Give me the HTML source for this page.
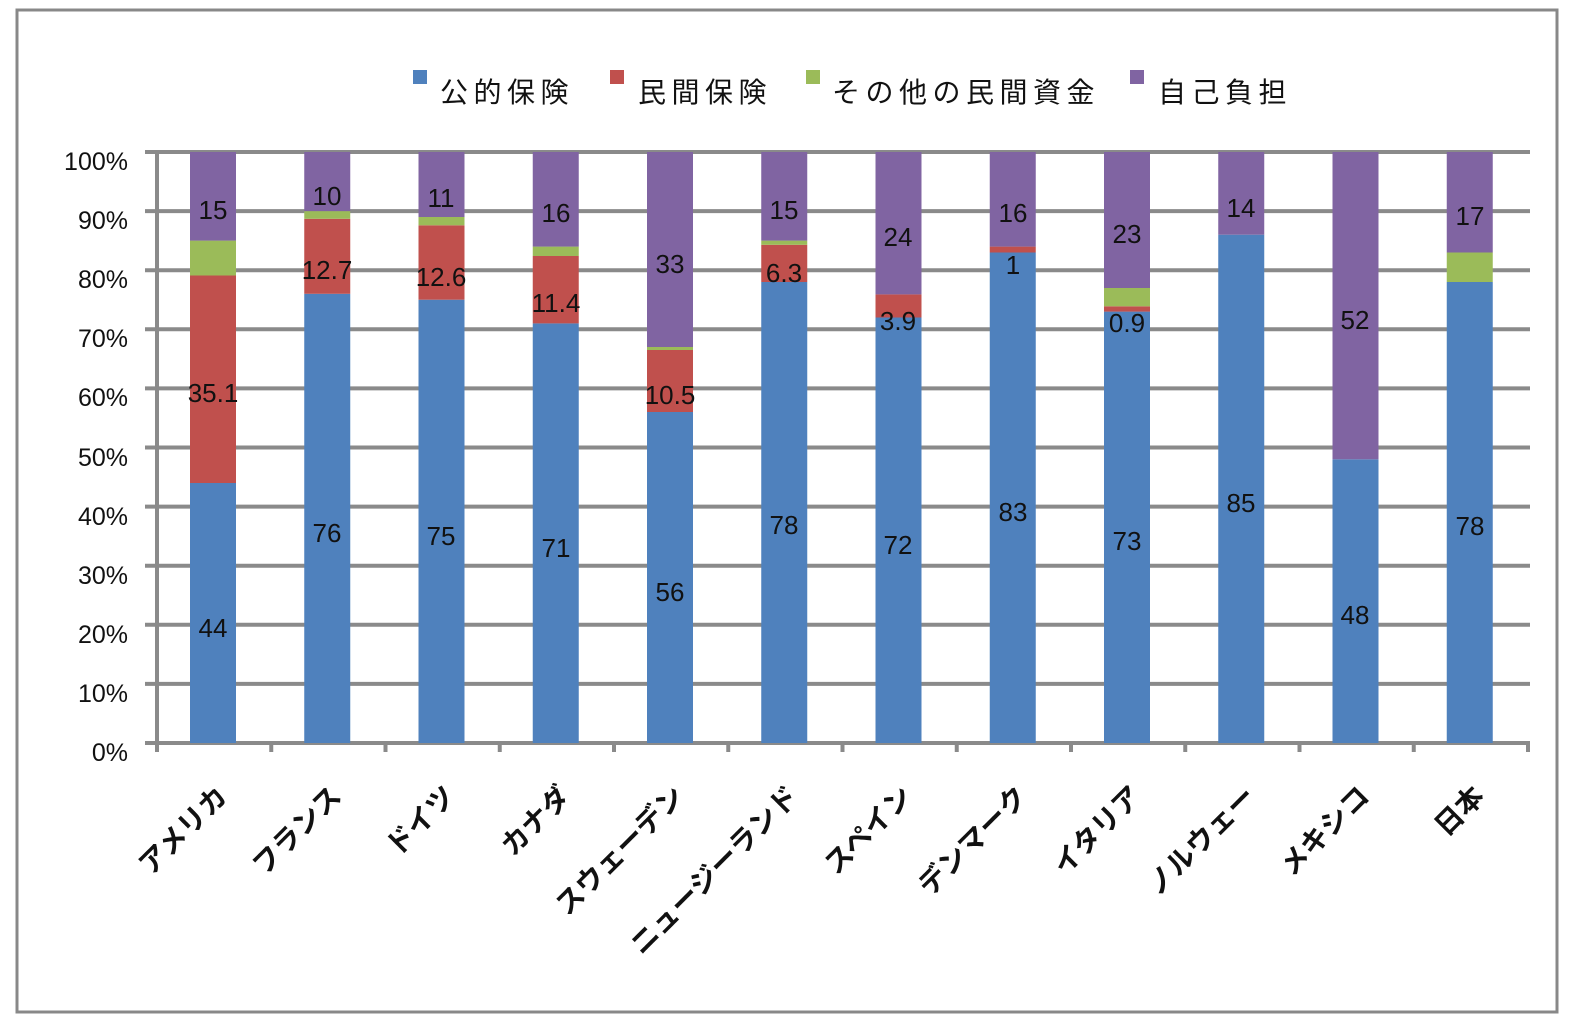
<!DOCTYPE html>
<html><head><meta charset="utf-8"><style>
html,body{margin:0;padding:0;background:#fff;}
svg{display:block;}
text{font-family:"Liberation Sans","Noto Sans CJK JP",sans-serif;}
</style></head><body>
<svg width="1569" height="1023" viewBox="0 0 1569 1023" xmlns="http://www.w3.org/2000/svg">
<rect x="0" y="0" width="1569" height="1023" fill="#fff"/>
<rect x="17" y="10" width="1540" height="1002" fill="none" stroke="#888" stroke-width="3"/>
<!-- legend -->
<g font-size="28" fill="#111" letter-spacing="5.5">
<rect x="413" y="70" width="14" height="14" fill="#4F81BD"/><text x="440" y="102">公的保険</text>
<rect x="610" y="70" width="14" height="14" fill="#C0504D"/><text x="638" y="102">民間保険</text>
<rect x="806" y="70" width="14" height="14" fill="#9BBB59"/><text x="832" y="102">その他の民間資金</text>
<rect x="1130" y="70" width="14" height="14" fill="#8064A2"/><text x="1158" y="102">自己負担</text>
</g>
<!-- gridlines -->
<g stroke="#8a8a8a" stroke-width="4">
<line x1="145" y1="152" x2="1530" y2="152"/>
<line x1="145" y1="211.1" x2="1530" y2="211.1"/>
<line x1="145" y1="270.2" x2="1530" y2="270.2"/>
<line x1="145" y1="329.3" x2="1530" y2="329.3"/>
<line x1="145" y1="388.4" x2="1530" y2="388.4"/>
<line x1="145" y1="447.5" x2="1530" y2="447.5"/>
<line x1="145" y1="506.6" x2="1530" y2="506.6"/>
<line x1="145" y1="565.7" x2="1530" y2="565.7"/>
<line x1="145" y1="624.8" x2="1530" y2="624.8"/>
<line x1="145" y1="683.9" x2="1530" y2="683.9"/>
<line x1="145" y1="743" x2="1530" y2="743"/>
<line x1="157" y1="150" x2="157" y2="752"/>
<line x1="271.25" y1="743" x2="271.25" y2="752"/>
<line x1="385.5" y1="743" x2="385.5" y2="752"/>
<line x1="499.75" y1="743" x2="499.75" y2="752"/>
<line x1="614" y1="743" x2="614" y2="752"/>
<line x1="728.25" y1="743" x2="728.25" y2="752"/>
<line x1="842.5" y1="743" x2="842.5" y2="752"/>
<line x1="956.75" y1="743" x2="956.75" y2="752"/>
<line x1="1071" y1="743" x2="1071" y2="752"/>
<line x1="1185.25" y1="743" x2="1185.25" y2="752"/>
<line x1="1299.5" y1="743" x2="1299.5" y2="752"/>
<line x1="1413.75" y1="743" x2="1413.75" y2="752"/>
<line x1="1528" y1="743" x2="1528" y2="752"/>
</g>
<!-- y labels -->
<g font-size="25" fill="#111" text-anchor="end">
<text x="128" y="170">100%</text>
<text x="128" y="229">90%</text>
<text x="128" y="288">80%</text>
<text x="128" y="347">70%</text>
<text x="128" y="406">60%</text>
<text x="128" y="466">50%</text>
<text x="128" y="525">40%</text>
<text x="128" y="584">30%</text>
<text x="128" y="643">20%</text>
<text x="128" y="702">10%</text>
<text x="128" y="761">0%</text>
</g>
<!-- bars -->
<g>
<rect x="190" y="483" width="46" height="260" fill="#4F81BD"/>
<rect x="190" y="275.5" width="46" height="207.5" fill="#C0504D"/>
<rect x="190" y="240.6" width="46" height="34.9" fill="#9BBB59"/>
<rect x="190" y="152" width="46" height="88.6" fill="#8064A2"/>

<rect x="304.25" y="293.8" width="46" height="449.2" fill="#4F81BD"/>
<rect x="304.25" y="218.8" width="46" height="75" fill="#C0504D"/>
<rect x="304.25" y="211.1" width="46" height="7.7" fill="#9BBB59"/>
<rect x="304.25" y="152" width="46" height="59.1" fill="#8064A2"/>

<rect x="418.5" y="299.7" width="46" height="443.3" fill="#4F81BD"/>
<rect x="418.5" y="225.3" width="46" height="74.4" fill="#C0504D"/>
<rect x="418.5" y="217" width="46" height="8.3" fill="#9BBB59"/>
<rect x="418.5" y="152" width="46" height="65" fill="#8064A2"/>

<rect x="532.75" y="323.4" width="46" height="419.6" fill="#4F81BD"/>
<rect x="532.75" y="256" width="46" height="67.4" fill="#C0504D"/>
<rect x="532.75" y="246.6" width="46" height="9.4" fill="#9BBB59"/>
<rect x="532.75" y="152" width="46" height="94.6" fill="#8064A2"/>

<rect x="647" y="412" width="46" height="331" fill="#4F81BD"/>
<rect x="647" y="350" width="46" height="62" fill="#C0504D"/>
<rect x="647" y="347" width="46" height="3" fill="#9BBB59"/>
<rect x="647" y="152" width="46" height="195" fill="#8064A2"/>

<rect x="761.25" y="282" width="46" height="461" fill="#4F81BD"/>
<rect x="761.25" y="244.8" width="46" height="37.2" fill="#C0504D"/>
<rect x="761.25" y="240.6" width="46" height="4.2" fill="#9BBB59"/>
<rect x="761.25" y="152" width="46" height="88.6" fill="#8064A2"/>

<rect x="875.5" y="317.5" width="46" height="425.5" fill="#4F81BD"/>
<rect x="875.5" y="294.4" width="46" height="23.1" fill="#C0504D"/>
<rect x="875.5" y="152" width="46" height="142.4" fill="#8064A2"/>

<rect x="989.75" y="252.5" width="46" height="490.5" fill="#4F81BD"/>
<rect x="989.75" y="246.6" width="46" height="5.9" fill="#C0504D"/>
<rect x="989.75" y="152" width="46" height="94.6" fill="#8064A2"/>

<rect x="1104" y="311.6" width="46" height="431.4" fill="#4F81BD"/>
<rect x="1104" y="306.3" width="46" height="5.3" fill="#C0504D"/>
<rect x="1104" y="288" width="46" height="18.3" fill="#9BBB59"/>
<rect x="1104" y="152" width="46" height="136" fill="#8064A2"/>

<rect x="1218.25" y="234.7" width="46" height="508.3" fill="#4F81BD"/>
<rect x="1218.25" y="152" width="46" height="82.7" fill="#8064A2"/>

<rect x="1332.5" y="459.3" width="46" height="283.7" fill="#4F81BD"/>
<rect x="1332.5" y="152" width="46" height="307.3" fill="#8064A2"/>

<rect x="1446.75" y="282" width="46" height="461" fill="#4F81BD"/>
<rect x="1446.75" y="252.5" width="46" height="29.5" fill="#9BBB59"/>
<rect x="1446.75" y="152" width="46" height="100.5" fill="#8064A2"/>
</g>
<!-- data labels -->
<g font-size="26" fill="#111" text-anchor="middle" dominant-baseline="middle" transform="translate(0,2)">
<text x="213" y="628">44</text><text x="213" y="393">35.1</text><text x="213" y="210">15</text>
<text x="327" y="533">76</text><text x="327" y="270">12.7</text><text x="327" y="196">10</text>
<text x="441" y="536">75</text><text x="441" y="277">12.6</text><text x="441" y="198">11</text>
<text x="556" y="548">71</text><text x="556" y="303">11.4</text><text x="556" y="213">16</text>
<text x="670" y="592">56</text><text x="670" y="395">10.5</text><text x="670" y="264">33</text>
<text x="784" y="525">78</text><text x="784" y="273">6.3</text><text x="784" y="210">15</text>
<text x="898" y="545">72</text><text x="898" y="321">3.9</text><text x="898" y="237">24</text>
<text x="1013" y="512">83</text><text x="1013" y="265">1</text><text x="1013" y="213">16</text>
<text x="1127" y="541">73</text><text x="1127" y="323">0.9</text><text x="1127" y="234">23</text>
<text x="1241" y="503">85</text><text x="1241" y="208">14</text>
<text x="1355" y="615">48</text><text x="1355" y="320">52</text>
<text x="1470" y="526">78</text><text x="1470" y="216">17</text>
</g>
<!-- x labels -->
<g font-size="28" font-weight="bold" fill="#111" text-anchor="end">
<text transform="translate(229,798) rotate(-45)">アメリカ</text>
<text transform="translate(343,798) rotate(-45)">フランス</text>
<text transform="translate(457,798) rotate(-45)">ドイツ</text>
<text transform="translate(572,798) rotate(-45)">カナダ</text>
<text transform="translate(686,798) rotate(-45)">スウェーデン</text>
<text transform="translate(800,798) rotate(-45)">ニュージーランド</text>
<text transform="translate(914,798) rotate(-45)">スペイン</text>
<text transform="translate(1029,798) rotate(-45)">デンマーク</text>
<text transform="translate(1143,798) rotate(-45)">イタリア</text>
<text transform="translate(1257,798) rotate(-45)">ノルウェー</text>
<text transform="translate(1371,798) rotate(-45)">メキシコ</text>
<text transform="translate(1486,798) rotate(-45)">日本</text>
</g>
</svg>
</body></html>
